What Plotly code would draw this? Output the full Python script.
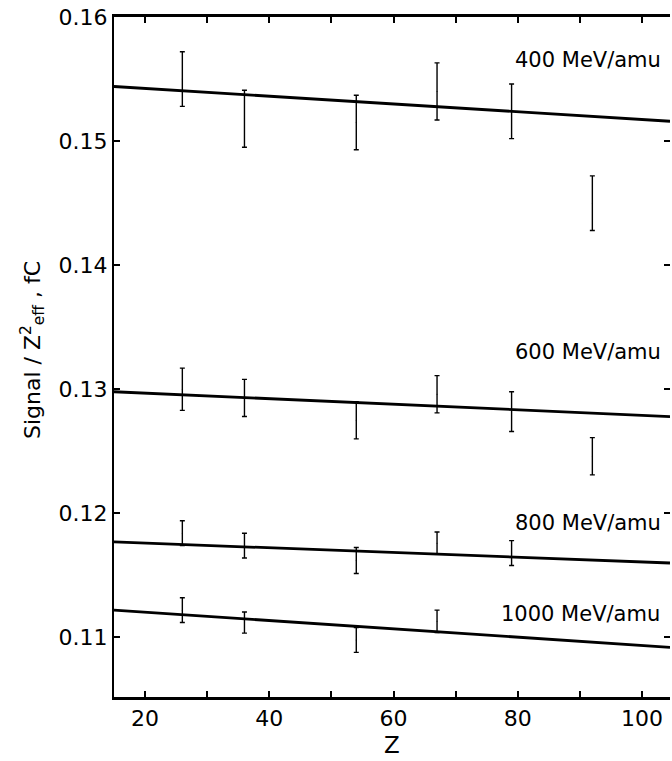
import plotly.graph_objects as go

# ---- data ----
Z_VALUES = [26, 36, 54, 67, 79, 92]

SIG_400 = [0.1550, 0.1518, 0.1515, 0.1540, 0.1524, 0.1450]
ERR_400 = [0.0022, 0.0023, 0.0022, 0.0023, 0.0022, 0.0022]

SIG_600 = [0.1300, 0.1293, 0.1275, 0.1296, 0.1282, 0.1246]
ERR_600 = [0.0017, 0.0015, 0.0015, 0.0015, 0.0016, 0.0015]

SIG_800 = [0.1184, 0.1174, 0.1162, 0.1176, 0.1168]
ERR_800 = [0.0010, 0.0010, 0.00105, 0.0009, 0.0010]

SIG_1000 = [0.1122, 0.1112, 0.1098, 0.1113]
ERR_1000 = [0.0010, 0.00085, 0.0010, 0.0009]

FIT_Z = [15, 104.5]
FIT_400 = [0.1544, 0.1516]
FIT_600 = [0.1298, 0.1278]
FIT_800 = [0.1177, 0.1160]
FIT_1000 = [0.1122, 0.1092]

SERIES_LABELS = ["400 MeV/amu", "600 MeV/amu", "800 MeV/amu", "1000 MeV/amu"]

X_TICK_VALS = [20, 40, 60, 80, 100]
X_TICK_TEXT = ["20", "40", "60", "80", "100"]
Y_TICK_VALS = [0.11, 0.12, 0.13, 0.14, 0.15, 0.16]
Y_TICK_TEXT = ["0.11", "0.12", "0.13", "0.14", "0.15", "0.16"]

X_RANGE = [15, 104.5]
Y_RANGE = [0.1052, 0.16]

FONT = "DejaVu Sans"

fig = go.Figure()

series = [
    (SIG_400, ERR_400, Z_VALUES[:len(SIG_400)]),
    (SIG_600, ERR_600, Z_VALUES[:len(SIG_600)]),
    (SIG_800, ERR_800, Z_VALUES[:len(SIG_800)]),
    (SIG_1000, ERR_1000, Z_VALUES[:len(SIG_1000)]),
]
fits = [FIT_400, FIT_600, FIT_800, FIT_1000]

for fit in fits:
    fig.add_trace(go.Scatter(
        x=FIT_Z, y=fit, mode="lines",
        line=dict(color="black", width=2.8),
        showlegend=False, hoverinfo="skip"))

for sig, err, zz in series:
    fig.add_trace(go.Scatter(
        x=zz, y=sig, mode="markers",
        marker=dict(size=1, color="black"),
        error_y=dict(type="data", array=err, visible=True,
                     color="black", thickness=1.4, width=2.5),
        showlegend=False))

# helper trace for the right-hand tick axis
fig.add_trace(go.Scatter(x=FIT_Z, y=FIT_400, yaxis="y2", mode="lines",
                         line=dict(width=0), opacity=0,
                         showlegend=False, hoverinfo="skip"))

ann = []
label_pos = [(79.2, 0.1565), (79.2, 0.1330), (79.2, 0.1192), (77.0, 0.1119)]
for txt, (xx, yy) in zip(SERIES_LABELS, label_pos):
    ann.append(dict(x=xx, y=yy, xref="x", yref="y", text=txt,
                    showarrow=False, xanchor="left", yanchor="middle",
                    font=dict(family=FONT, size=21, color="black")))

ann.append(dict(x=-0.146, y=0.51, xref="paper", yref="paper",
                text="Signal / Z<sup>2</sup><sub>eff</sub> , fC",
                textangle=-90, showarrow=False,
                xanchor="center", yanchor="middle",
                font=dict(family=FONT, size=22, color="black")))
ann.append(dict(x=0.5, y=-0.0706, xref="paper", yref="paper",
                text="Z", showarrow=False,
                xanchor="center", yanchor="middle",
                font=dict(family=FONT, size=23, color="black")))

fig.update_layout(
    width=672, height=761,
    margin=dict(l=114, r=2, t=17, b=64),
    paper_bgcolor="white", plot_bgcolor="white",
    font=dict(family=FONT, size=21, color="black"),
    annotations=ann,
    xaxis=dict(range=X_RANGE, tickvals=X_TICK_VALS, ticktext=X_TICK_TEXT,
               ticks="inside", ticklen=6, tickwidth=1.5, tickcolor="black",
               minor=dict(dtick=10, tick0=0, ticks="inside", ticklen=6,
                          tickwidth=1.5, tickcolor="black", showgrid=False),
               showline=True, linecolor="black", linewidth=2.5,
               mirror="ticks", showgrid=False, zeroline=False,
               tickfont=dict(family=FONT, size=22, color="black")),
    yaxis=dict(range=Y_RANGE, tickvals=Y_TICK_VALS, ticktext=Y_TICK_TEXT,
               ticks="inside", ticklen=6, tickwidth=1.5, tickcolor="black",
               showline=True, linecolor="black", linewidth=2,
               showgrid=False, zeroline=False,
               tickfont=dict(family=FONT, size=22, color="black")),
    yaxis2=dict(range=Y_RANGE, tickvals=Y_TICK_VALS, overlaying="y",
                side="right", anchor="x", ticks="inside", ticklen=6,
                tickwidth=1.5, tickcolor="black", showline=False,
                showticklabels=False, showgrid=False, zeroline=False),
)

fig.write_html("out.html")
